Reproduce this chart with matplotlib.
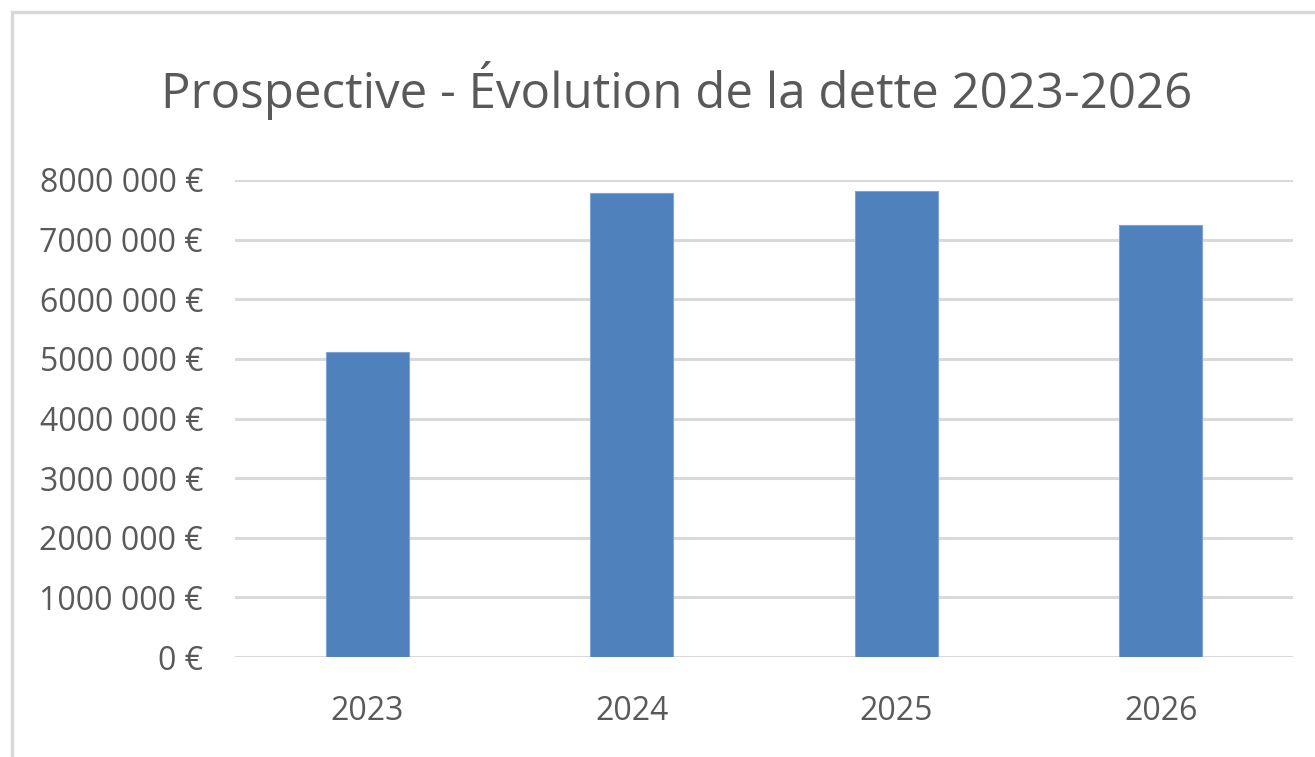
import matplotlib.pyplot as plt
from matplotlib.patches import Rectangle
from matplotlib.ticker import FuncFormatter, MultipleLocator

# data
years = ['2023', '2024', '2025', '2026']
dette = [5110000, 7790000, 7820000, 7245000]

plt.rcParams['font.family'] = ['Open Sans', 'DejaVu Sans']
grey = '#595959'

fig = plt.figure(figsize=(13.15, 7.57), dpi=100)
ax = fig.add_axes([235 / 1315, 1 - 657 / 757, 1058 / 1315, (657 - 180) / 757])

# light frame of the chart area (cut at right and bottom)
fig.patches.append(Rectangle((12 / 1315, -0.05), 1.2, 1 - 12 / 757 + 0.05,
                             transform=fig.transFigure, fill=False,
                             edgecolor='#d9d9d9', linewidth=2.5))

ax.bar(years, dette, width=0.315, color='#4f81bd', edgecolor='#7ea3d4',
       linewidth=0.8, zorder=3)

ax.set_ylim(0, 8000000)
ax.set_xlim(-0.5, 3.5)
ax.yaxis.set_major_locator(MultipleLocator(1000000))


def euro(v, pos):
    v = int(round(v))
    if v == 0:
        return '0 €'
    return '{} {:03d} €'.format(v // 1000, v % 1000)


ax.yaxis.set_major_formatter(FuncFormatter(euro))
ax.grid(axis='y', color='#d9d9d9', linewidth=2.2, zorder=0)
for s in ax.spines.values():
    s.set_visible(False)
ax.tick_params(axis='both', length=0, labelcolor=grey)
ax.tick_params(axis='y', labelsize=23, pad=23)
ax.tick_params(axis='x', labelsize=23, pad=27)

fig.text(0.5145, 1 - 90 / 757, 'Prospective - Évolution de la dette 2023-2026',
         ha='center', va='center', fontsize=35.5, color=grey)

fig.savefig('out.png', dpi=100, facecolor='white')
